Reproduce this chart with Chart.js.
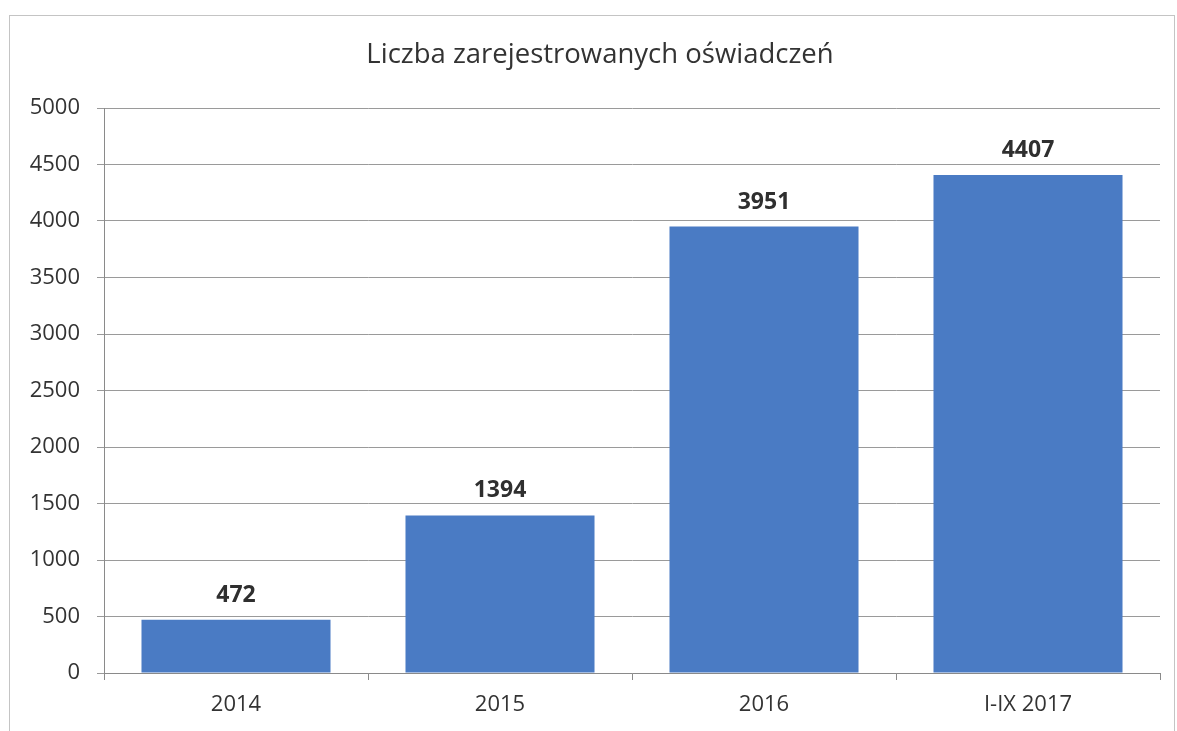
<!DOCTYPE html>
<html>
<head>
<meta charset="utf-8">
<script src="https://cdn.jsdelivr.net/npm/chart.js@4/dist/chart.umd.min.js"></script>
<style>
  html, body { margin: 0; padding: 0; background: #fff; }
  #wrap { width: 1177px; height: 731px; position: relative; }
</style>
</head>
<body>
<div id="wrap"><canvas id="c" width="1177" height="731"></canvas></div>
<script>
const categories = ["2014", "2015", "2016", "I-IX 2017"];
const values = [472, 1394, 3951, 4407];
const titleText = "Liczba zarejestrowanych oświadczeń";

const FONT = "'Open Sans', 'DejaVu Sans', sans-serif";

const framePlugin = {
  id: 'frame',
  beforeDraw(chart) {
    const ctx = chart.ctx;
    ctx.save();
    ctx.fillStyle = '#ffffff';
    ctx.fillRect(0, 0, chart.width, chart.height);
    ctx.strokeStyle = '#c4c4c4';
    ctx.lineWidth = 1;
    ctx.strokeRect(9.5, 15.5, 1165, 740);
    ctx.restore();
  },
  afterDraw(chart) {
    const ctx = chart.ctx;
    ctx.save();
    ctx.font = "27.5px " + FONT;
    ctx.fillStyle = '#333333';
    ctx.textAlign = 'center';
    ctx.textBaseline = 'middle';
    ctx.fillText(titleText, 600, 55);
    ctx.restore();
  }
};

const valueLabels = {
  id: 'valueLabels',
  afterDatasetsDraw(chart) {
    const ctx = chart.ctx;
    const meta = chart.getDatasetMeta(0);
    ctx.save();
    ctx.font = "bold 23px " + FONT;
    ctx.fillStyle = '#2f2f2f';
    ctx.textAlign = 'center';
    ctx.textBaseline = 'alphabetic';
    meta.data.forEach((bar, i) => {
      ctx.fillText(String(values[i]), bar.x, bar.y - 18);
    });
    ctx.restore();
  }
};

new Chart(document.getElementById('c'), {
  type: 'bar',
  data: {
    labels: categories,
    datasets: [{
      data: values,
      backgroundColor: '#4a7bc4',
      borderWidth: 0,
      barPercentage: 0.716,
      categoryPercentage: 1.0
    }]
  },
  options: {
    responsive: false,
    animation: false,
    devicePixelRatio: 1,
    layout: { padding: { left: 0, right: 17, top: 108, bottom: 0 } },
    plugins: {
      legend: { display: false },
      tooltip: { enabled: false },
      title: { display: false }
    },
    scales: {
      x: {
        offset: true,
        grid: {
          display: true,
          offset: true,
          drawOnChartArea: false,
          drawTicks: true,
          tickLength: 7,
          color: '#8a8a8a'
        },
        border: { display: true, color: '#8a8a8a' },
        ticks: {
          color: '#333333',
          font: { family: FONT, size: 22 },
          padding: 12
        },
        afterFit(scale) { scale.height = 58; }
      },
      y: {
        min: 0,
        max: 5000,
        ticks: {
          stepSize: 500,
          color: '#333333',
          font: { family: FONT, size: 22 },
          padding: 17,
          callback: (v) => String(v)
        },
        grid: {
          color: '#9a9a9a',
          tickLength: 7,
          lineWidth: 1
        },
        border: { display: true, color: '#8a8a8a' },
        afterFit(scale) { scale.width = 104; }
      }
    }
  },
  plugins: [framePlugin, valueLabels]
});
</script>
</body>
</html>
